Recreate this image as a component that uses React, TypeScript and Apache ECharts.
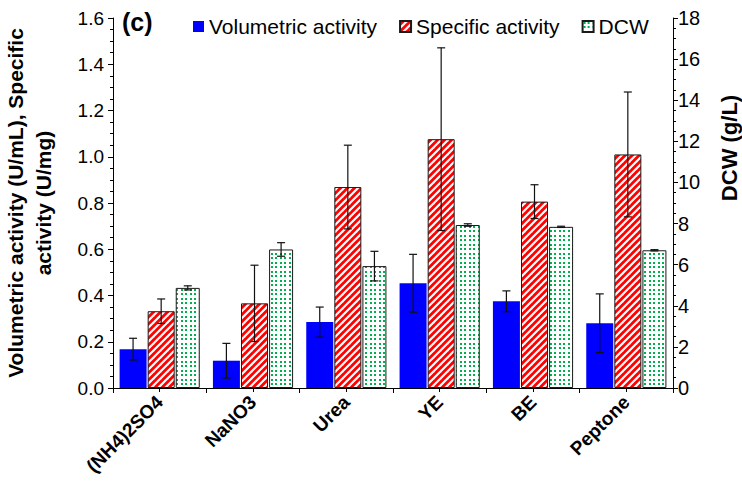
import React, { useEffect, useRef } from "react";
import * as echarts from "echarts";

const categories = ["(NH4)2SO4", "NaNO3", "Urea", "YE", "BE", "Peptone"];
const volumetric = [0.168, 0.118, 0.285, 0.453, 0.375, 0.28];
const volumetricErr = [0.047, 0.075, 0.065, 0.125, 0.045, 0.127];
const specific = [0.332, 0.366, 0.869, 1.076, 0.806, 1.01];
const specificErr = [0.053, 0.165, 0.181, 0.395, 0.073, 0.27];
const dcw = [4.87, 6.74, 5.93, 7.93, 7.84, 6.7];
const dcwErr = [0.1, 0.33, 0.72, 0.06, 0.03, 0.03];

const leftTicks = { min: 0, max: 1.6, interval: 0.2 };
const rightTicks = { min: 0, max: 18, interval: 2 };

const FONT = 'Arial, "Liberation Sans", sans-serif';

function stripeCanvas() {
  const s = 7;
  const c = document.createElement("canvas");
  c.width = s;
  c.height = s;
  const g = c.getContext("2d")!;
  g.fillStyle = "#ff0000";
  g.fillRect(0, 0, s, s);
  g.strokeStyle = "#ffffff";
  g.lineWidth = 2.1;
  for (const k of [-s, 0, s]) {
    g.beginPath();
    g.moveTo(k - 1, s + 1);
    g.lineTo(k + s + 1, -1);
    g.stroke();
  }
  return c;
}

function dotCanvas() {
  const s = 9;
  const c = document.createElement("canvas");
  c.width = s;
  c.height = s;
  const g = c.getContext("2d")!;
  g.fillStyle = "#ffffff";
  g.fillRect(0, 0, s, s);
  g.fillStyle = "#00b050";
  for (const x of [1, 5]) {
    for (const y of [1, 5]) {
      g.fillRect(x, y, 2, 2);
    }
  }
  return c;
}

function errSeries(name: string, values: number[], errs: number[], yAxisIndex: number, offset: number) {
  return {
    type: "custom",
    name,
    yAxisIndex,
    z: 5,
    silent: true,
    data: values.map((v, i) => [i, v - errs[i], v + errs[i]]),
    encode: { x: 0, y: [1, 2] },
    renderItem: (_params: any, api: any) => {
      const i = api.value(0);
      const lo = api.coord([i, api.value(1)]);
      const hi = api.coord([i, api.value(2)]);
      const x = lo[0] + offset;
      const cap = 4;
      const style = { stroke: "#111", lineWidth: 1.2 };
      return {
        type: "group",
        children: [
          { type: "line", shape: { x1: x, y1: lo[1], x2: x, y2: hi[1] }, style },
          { type: "line", shape: { x1: x - cap, y1: hi[1], x2: x + cap, y2: hi[1] }, style },
          { type: "line", shape: { x1: x - cap, y1: lo[1], x2: x + cap, y2: lo[1] }, style },
        ],
      };
    },
  };
}

export default function App() {
  const ref = useRef<HTMLDivElement>(null);
  useEffect(() => {
    const chart = echarts.init(ref.current!, null, { renderer: "svg" });
    const stripes = { image: stripeCanvas(), repeat: "repeat" };
    const dots = { image: dotCanvas(), repeat: "repeat" };
    const axisLine = { show: true, lineStyle: { color: "#000", width: 1 } };
    chart.setOption({
      animation: false,
      backgroundColor: "#fff",
      textStyle: { fontFamily: FONT },
      grid: { left: 113, right: 69, top: 18, bottom: 104, outerBoundsMode: "none", containLabel: false },
      legend: {
        data: ["Volumetric activity", "Specific activity", "DCW"],
        left: 188,
        top: 11,
        icon: "rect",
        itemWidth: 11,
        itemHeight: 11,
        itemGap: 22,
        textStyle: { fontSize: 21, color: "#000", fontFamily: FONT },
      },
      xAxis: [
        {
          type: "category",
          data: categories,
          position: "bottom",
          axisLine,
          axisTick: { show: true, length: 5, lineStyle: { color: "#000" } },
          axisLabel: {
            rotate: 45,
            margin: 11,
            fontSize: 19,
            fontWeight: "bold",
            color: "#000",
            fontFamily: FONT,
            interval: 0,
          },
          splitLine: { show: false },
        },
        {
          type: "category",
          data: categories,
          position: "bottom",
          axisLine: { show: false },
          axisTick: { show: true, alignWithLabel: true, length: 4, lineStyle: { color: "#000" } },
          axisLabel: { show: false },
          splitLine: { show: false },
        },
      ],
      yAxis: [
        {
          type: "value",
          ...leftTicks,
          position: "left",
          axisLine,
          axisTick: { show: true, length: 5, lineStyle: { color: "#000" } },
          minorTick: { show: true, splitNumber: 4, length: 3, lineStyle: { color: "#000" } },
          splitLine: { show: false },
          axisLabel: {
            formatter: (v: number) => v.toFixed(1),
            fontSize: 19,
            color: "#000",
            margin: 9,
            fontFamily: FONT,
          },
          name: "Volumetric activity (U/mL), Specific\nactivity (U/mg)",
          nameLocation: "middle",
          nameGap: 56,
          nameTextStyle: {
            fontSize: 21,
            fontWeight: "bold",
            color: "#000",
            lineHeight: 28,
            fontFamily: FONT,
          },
        },
        {
          type: "value",
          ...rightTicks,
          position: "right",
          axisLine,
          axisTick: { show: true, length: 5, lineStyle: { color: "#000" } },
          minorTick: { show: true, splitNumber: 4, length: 3, lineStyle: { color: "#000" } },
          splitLine: { show: false },
          axisLabel: { fontSize: 20, color: "#000", margin: 5, fontFamily: FONT },
        },
      ],
      graphic: [
        {
          type: "text",
          left: 122,
          top: 9,
          style: { text: "(c)", font: `bold 25px ${FONT}`, fill: "#000" },
        },
        {
          type: "text",
          x: 729,
          y: 148,
          rotation: Math.PI / 2,
          style: {
            text: "DCW (g/L)",
            font: `bold 22px ${FONT}`,
            fill: "#000",
            align: "center",
            verticalAlign: "middle",
          },
        },
      ],
      series: [
        {
          type: "bar",
          name: "Volumetric activity",
          data: volumetric,
          barWidth: 27,
          barGap: "4%",
          itemStyle: { color: "#0000ff", borderWidth: 0 },
        },
        {
          type: "bar",
          name: "Specific activity",
          data: specific,
          barWidth: 27,
          barGap: "4%",
          itemStyle: { color: stripes, borderColor: "#1a1a1a", borderWidth: 1 },
        },
        {
          type: "bar",
          name: "DCW",
          yAxisIndex: 1,
          data: dcw,
          barWidth: 24,
          barGap: "4%",
          itemStyle: { color: dots, borderColor: "#1a1a1a", borderWidth: 1 },
        },
        errSeries("err-vol", volumetric, volumetricErr, 0, -26.6),
        errSeries("err-spec", specific, specificErr, 0, 1.5),
        errSeries("err-dcw", dcw, dcwErr, 1, 28.1),
      ],
    });
    return () => chart.dispose();
  }, []);
  return (
    <div
      ref={ref}
      style={{ position: "absolute", left: 0, top: 0, width: 742, height: 492 }}
    />
  );
}
